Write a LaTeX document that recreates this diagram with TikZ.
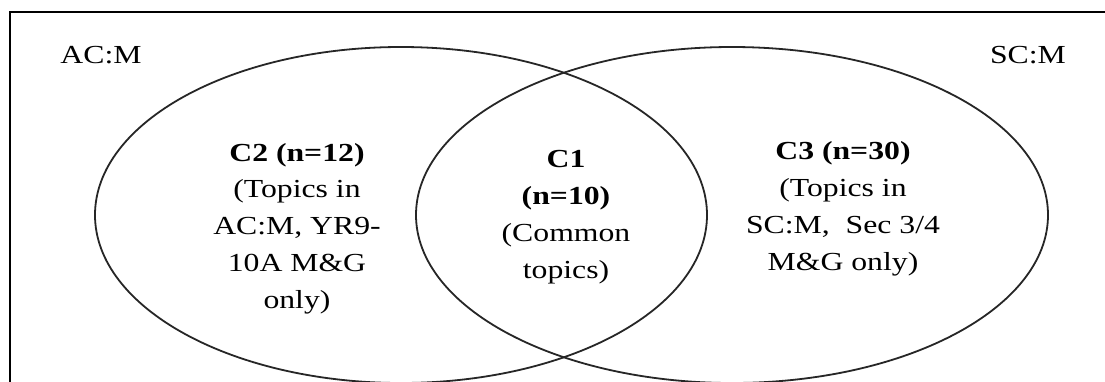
\documentclass[tikz,border=0pt]{standalone}
\usepackage{fontspec}
\setmainfont{Liberation Serif}[FakeStretch=1.22]
\begin{document}
\begin{tikzpicture}[x=1pt,y=-1pt,
  venn/.style={draw=black!85, line width=1.8pt},
  lbl/.style={inner sep=0pt, align=center, font=\fontsize{26}{36.7}\selectfont, anchor=base},
  setname/.style={inner sep=0pt, font=\fontsize{26}{33}\selectfont, anchor=base}]
\clip (0,0) rectangle (1105,381);
\fill[white] (0,0) rectangle (1105,381);
\draw[line width=2.6pt] (10,12) rectangle (1130,400);
\draw[venn] (401,215) ellipse [x radius=306, y radius=168];
\draw[venn] (732,215) ellipse [x radius=316, y radius=168];
\node[setname] (acm) at (101,63) {AC:M};
\node[setname] (scm) at (1028,63) {SC:M};
\node[lbl] (c2) at (297,308) {\textbf{C2 (n=12)}\\(Topics in\\AC:M, YR9-\\10A M\&G\\only)};
\node[lbl] (c1) at (566,278) {\textbf{C1}\\\textbf{(n=10)}\\(Common\\topics)};
\node[lbl] (c3) at (843,270) {\textbf{C3 (n=30)}\\(Topics in\\SC:M,\ \ Sec 3/4\\M\&G only)};
\end{tikzpicture}
\end{document}
